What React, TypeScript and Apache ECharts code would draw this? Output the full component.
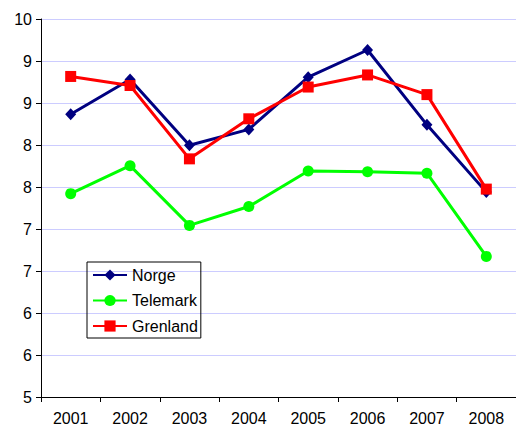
import React, { useEffect, useRef } from "react";
import * as echarts from "echarts";

const years = ["2001", "2002", "2003", "2004", "2005", "2006", "2007", "2008"];
const norge = [8.74, 9.2, 8.33, 8.54, 9.23, 9.59, 8.6, 7.71];
const telemark = [7.69, 8.06, 7.27, 7.52, 7.99, 7.98, 7.96, 6.86];
const grenland = [9.24, 9.12, 8.15, 8.68, 9.1, 9.26, 9.0, 7.75];
const yTickLabels = ["5", "6", "6", "7", "7", "8", "8", "9", "9", "10"];

const Y_MIN = 5;
const Y_MAX = 10;
const Y_STEP = 5 / 9;

export default function App() {
  const ref = useRef<HTMLDivElement>(null);
  useEffect(() => {
    if (!ref.current) return;
    const chart = echarts.init(ref.current, undefined, { renderer: "svg" });
    const font = "'Liberation Sans', Arial, sans-serif";
    const gridColors = yTickLabels.map((_, i) =>
      i === yTickLabels.length - 1 ? "#9a9a9a" : "#ccccff"
    );
    chart.setOption({
      animation: false,
      backgroundColor: "#ffffff",
      textStyle: { fontFamily: font },
      grid: { left: 41, top: 19, right: -10, bottom: 27, containLabel: false },
      legend: {
        orient: "vertical",
        left: 87,
        top: 262,
        borderColor: "#000000",
        borderWidth: 1,
        padding: [5, 3, 4, 5],
        itemWidth: 34,
        itemHeight: 14,
        itemGap: 9.5,
        textStyle: { fontSize: 16, lineHeight: 16, color: "#000000", fontFamily: font },
        data: ["Norge", "Telemark", "Grenland"],
      },
      xAxis: {
        type: "category",
        data: years,
        boundaryGap: true,
        axisLine: { lineStyle: { color: "#000000", width: 1 } },
        axisTick: { show: true, length: 5, lineStyle: { color: "#000000" } },
        axisLabel: { fontSize: 16, color: "#000000", margin: 13, fontFamily: font },
        splitLine: { show: false },
      },
      yAxis: {
        type: "value",
        min: Y_MIN,
        max: Y_MAX,
        interval: Y_STEP,
        axisLine: { show: true, lineStyle: { color: "#000000", width: 1 } },
        axisTick: { show: true, length: 5, lineStyle: { color: "#000000" } },
        axisLabel: {
          fontSize: 16,
          color: "#000000",
          margin: 9,
          fontFamily: font,
          formatter: (v: number) => {
            const idx = Math.round((v - Y_MIN) / Y_STEP);
            return yTickLabels[idx] ?? "";
          },
        },
        splitLine: { show: true, lineStyle: { color: gridColors, width: 1 } },
      },
      series: [
        {
          name: "Norge",
          type: "line",
          data: norge,
          symbol: "diamond",
          symbolSize: [11, 12],
          lineStyle: { color: "#000080", width: 3 },
          itemStyle: { color: "#000080" },
        },
        {
          name: "Telemark",
          type: "line",
          data: telemark,
          symbol: "circle",
          symbolSize: 11,
          lineStyle: { color: "#00ff00", width: 3 },
          itemStyle: { color: "#00ff00" },
        },
        {
          name: "Grenland",
          type: "line",
          data: grenland,
          symbol: "rect",
          symbolSize: 11,
          lineStyle: { color: "#ff0000", width: 3 },
          itemStyle: { color: "#ff0000" },
        },
      ],
    });
    return () => chart.dispose();
  }, []);
  return (
    <div
      ref={ref}
      style={{ position: "absolute", left: 0, top: 0, width: 516, height: 426 }}
    />
  );
}
